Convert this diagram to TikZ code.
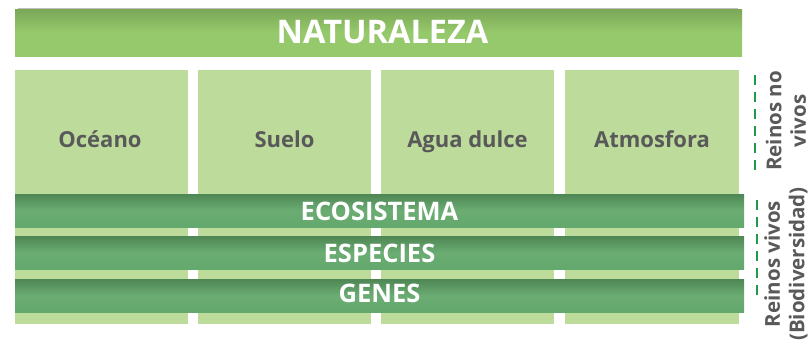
\documentclass[tikz,border=0pt]{standalone}
\usepackage{fontspec}
\setmainfont{Open Sans}
\definecolor{colfill}{HTML}{BDDC9C}
\definecolor{txtgray}{HTML}{595959}
\definecolor{dashgreen}{HTML}{1E9A4A}
\definecolor{titletop}{HTML}{7BA757}
\definecolor{titlebot}{HTML}{96C96B}
\definecolor{bandtop}{HTML}{4E8654}
\definecolor{bandbot}{HTML}{63A86C}
\tikzset{
  titlebar/.style={top color=titletop, bottom color=titlebot, middle color=titlebot, draw=none},
  colbox/.style={fill=colfill, draw=none},
  band/.style={top color=bandtop, bottom color=bandbot, middle color=bandbot!95!white, draw=none},
  coltext/.style={text=txtgray, anchor=base, font=\bfseries\fontsize{22}{25}\selectfont},
  bandtext/.style={text=white, anchor=base, font=\bfseries\fontsize{25.5}{28}\selectfont},
  sidetext/.style={text=txtgray, font=\bfseries\fontsize{20.5}{24.5}\selectfont, rotate=90, align=center},
  sidedash/.style={draw=dashgreen, line width=1.9pt, dash pattern=on 10pt off 7pt},
}
\begin{document}
\begin{tikzpicture}[x=1pt,y=-1pt]
\useasboundingbox (0,0) rectangle (812,341);
% title bar
\draw[gray!50, line width=1pt] (18,8.5) -- (738,8.5);
\shade[titlebar] (15,9) rectangle (742,56);
\node[text=white, anchor=base, font=\bfseries\fontsize{32.5}{38}\selectfont] (nat) at (382.5,43) {NATURALEZA};
% columns
\fill[colbox] (15,70) rectangle (188,324);
\fill[colbox] (198,70) rectangle (371,324);
\fill[colbox] (381,70) rectangle (554,324);
\fill[colbox] (565,70) rectangle (739,324);
\node[coltext] (oc) at (100,147) {Océano};
\node[coltext] (su) at (284.5,147) {Suelo};
\node[coltext] (ag) at (467.5,147) {Agua dulce};
\node[coltext] (at) at (652,147) {Atmosfora};
% bands
\shade[band] (15,194) rectangle (744,227);
\shade[band] (15,236) rectangle (744,269);
\shade[band] (15,279) rectangle (744,312);
\node[bandtext] (eco) at (379.5,220) {ECOSISTEMA};
\node[bandtext] (esp) at (379.5,262) {ESPECIES};
\node[bandtext] (gen) at (379.5,302) {GENES};
% side labels
\coordinate (d1a) at (755,75);
\coordinate (d1b) at (755,172);
\coordinate (d2a) at (757,200);
\coordinate (d2b) at (757,302);
\draw[sidedash] (d1a) -- (d1b);
\draw[sidedash] (d2a) -- (d2b);
\node[sidetext] (rnv) at (786,121) {Reinos no\\vivos};
\node[sidetext] (rv) at (786,264) {Reinos vivos\\(Biodiversidad)};
\end{tikzpicture}
\end{document}
